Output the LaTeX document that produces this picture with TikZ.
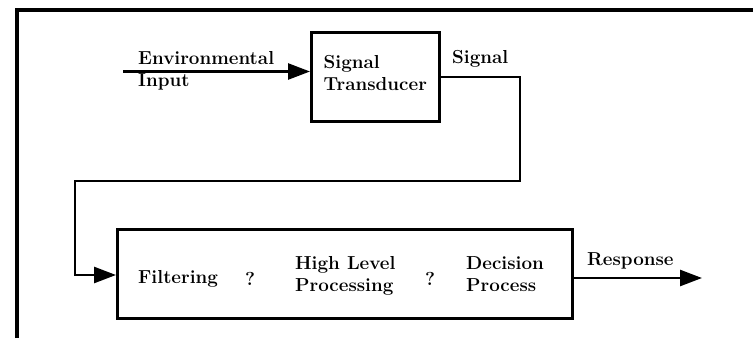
\documentclass[tikz,border=0pt]{standalone}
\usetikzlibrary{arrows.meta}
\begin{document}
\begin{tikzpicture}[x=1pt,y=-1pt,
  lbl/.style={font=\fontsize{18.8}{21.5}\selectfont\bfseries, inner sep=0pt, align=left},
  blk/.style={draw, line width=2.6pt, inner sep=0pt},
  flow/.style={line width=2.6pt, -{Triangle[length=22pt,width=16pt]}}]
\useasboundingbox (0,0) rectangle (753,338);
% frame
\draw[line width=3.2pt] (17,338) -- (17,10) -- (753,10);

% transducer stage
\node[blk, lbl, minimum width=128pt, minimum height=89pt, text depth=8pt,
      anchor=north west] (trans) at (310,31) {Signal\\Transducer};
\node[lbl, anchor=base west] (envin) at (138,86) {Environmental\\Input};
\coordinate (src) at (123,71.5);
\draw[flow] (src) -- (src -| trans.west);

% processing stage
\node[blk, minimum width=455pt, minimum height=89pt, anchor=north west] (proc) at (116,228) {};
\node[lbl, anchor=base west] (filt) at (138,283) {Filtering};
\node[lbl, anchor=base] (q1) at (250,285) {?};
\node[lbl, anchor=base west] (hlp) at (295,291) {High Level\\Processing};
\node[lbl, anchor=base] (q2) at (430,285) {?};
\node[lbl, anchor=base west] (dec) at (466,291) {Decision\\Process};

% signal path between the stages
\node[lbl, anchor=base west] (siglbl) at (452,63) {Signal};
\coordinate (turnR) at (520,181);
\coordinate (turnL) at (75,181);
\coordinate (turnD) at (75,275);
\draw[flow] (trans.east) -| (turnR) -- (turnL) -- (turnD) -- (turnD -| proc.west);

% output
\node[lbl, anchor=base west] (resp) at (587,265) {Response};
\coordinate (out) at (702,278);
\draw[flow] (proc.east |- out) -- (out);
\end{tikzpicture}
\end{document}
